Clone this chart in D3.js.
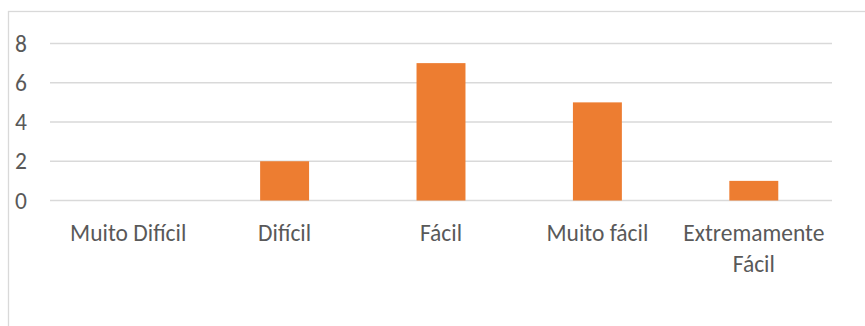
<!DOCTYPE html>
<html>
<head>
<meta charset="utf-8">
<script src="https://cdn.jsdelivr.net/npm/d3@7"></script>
<style>
  html, body { margin: 0; padding: 0; background: #fff; }
  svg { display: block; }
</style>
</head>
<body>
<svg id="chart" width="865" height="326"></svg>
<script>
// Respostas por nível de dificuldade
const categories = ["Muito Difícil", "Difícil", "Fácil", "Muito fácil", "Extremamente Fácil"];
const values = [0, 2, 7, 5, 1];
const yTicks = [0, 2, 4, 6, 8];

const svg = d3.select("#chart");
const W = 865, H = 326;
const plot = { left: 50, right: 832, top: 43.5, bottom: 200.5 };
const font = "Calibri, Carlito, 'Open Sans', sans-serif";
const fontSize = 23.5;
const textColor = "#595959";
const gridColor = "#d9d9d9";

// Chart area frame (extends past the page edges on the right and bottom)
svg.append("rect")
  .attr("x", 8.5).attr("y", 11.5)
  .attr("width", W + 10).attr("height", H + 10)
  .attr("fill", "#fff").attr("stroke", gridColor).attr("stroke-width", 1.3);

const x = d3.scaleBand()
  .domain(categories)
  .range([plot.left, plot.right])
  .paddingInner(0.687)
  .paddingOuter(0.3435);

const y = d3.scaleLinear().domain([0, 8]).range([plot.bottom, plot.top]);

// Horizontal gridlines
svg.append("g")
  .selectAll("line")
  .data(yTicks)
  .join("line")
  .attr("x1", plot.left).attr("x2", plot.right)
  .attr("y1", d => y(d)).attr("y2", d => y(d))
  .attr("stroke", gridColor).attr("stroke-width", 1.3);

// Y axis labels
const yAxis = svg.append("g")
  .attr("transform", `translate(${plot.left},0)`)
  .call(d3.axisLeft(y).tickValues(yTicks).tickSize(0).tickPadding(23));
yAxis.select(".domain").remove();
yAxis.selectAll("text")
  .attr("font-family", font).attr("font-size", fontSize)
  .attr("fill", textColor);

// Bars
svg.append("g")
  .selectAll("rect")
  .data(values)
  .join("rect")
  .attr("x", (d, i) => x(categories[i]))
  .attr("width", x.bandwidth())
  .attr("y", d => y(d))
  .attr("height", d => y(0) - y(d))
  .attr("fill", "#ed7d31");

// Category labels, wrapped onto lines when too wide for the band
const xAxis = svg.append("g")
  .attr("transform", `translate(0,${plot.bottom})`)
  .call(d3.axisBottom(x).tickSize(0).tickPadding(0));
xAxis.select(".domain").remove();
xAxis.selectAll("text").remove();
const step = x.step();
xAxis.selectAll(".tick").each(function(cat) {
  const g = d3.select(this);
  const t = g.append("text")
    .attr("text-anchor", "middle")
    .attr("font-family", font).attr("font-size", fontSize)
    .attr("fill", textColor)
    .attr("y", 40);
  const words = cat.split(" ");
  t.text(cat);
  if (t.node().getComputedTextLength() > step - 8 && words.length > 1) {
    t.text(null);
    words.forEach((w, i) => {
      t.append("tspan").attr("x", 0).attr("dy", i === 0 ? 0 : 31).text(w);
    });
  }
});
</script>
</body>
</html>
